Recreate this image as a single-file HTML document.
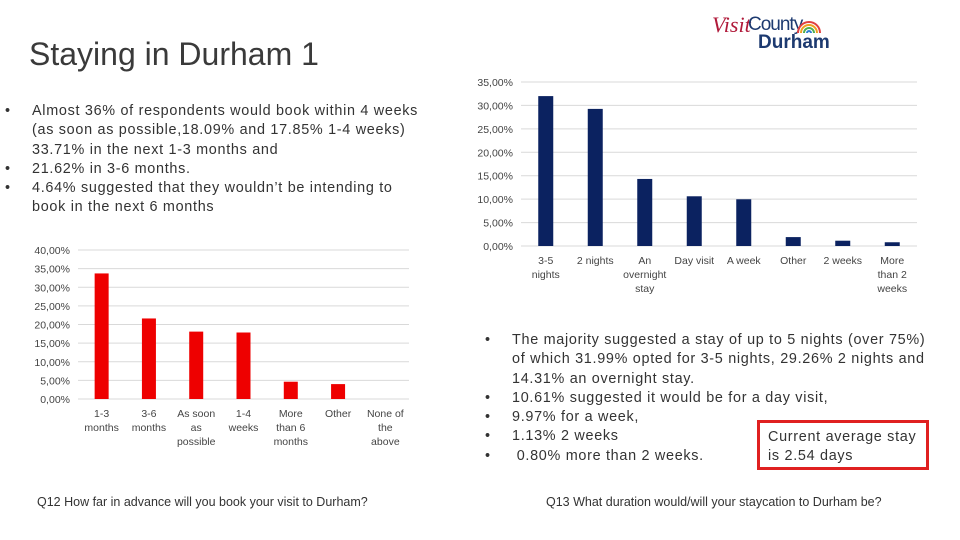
<!DOCTYPE html>
<html><head><meta charset="utf-8"><style>
body{margin:0;width:960px;height:540px;background:#fff;font-family:"Liberation Sans",sans-serif;position:relative;overflow:hidden;color:#333}
.abs{position:absolute}
ul{margin:0;padding:0;list-style:none;white-space:nowrap;letter-spacing:0.7px}
li{position:relative;padding-left:0}
li:before{content:"•";position:absolute;left:-27px}
</style></head><body>
<div class="abs" style="left:29px;top:36px;font-size:32px;color:#3a3a3a">Staying in Durham 1</div>
<div class="abs" style="left:712px;top:12px;width:110px;height:45px">
<span style="position:absolute;left:0;top:0;font-family:'Liberation Serif',serif;font-style:italic;color:#b01a3a;font-size:22px">Visit</span>
<span style="position:absolute;left:36px;top:2px;color:#1d3a70;font-size:19px;letter-spacing:-1px">County</span>
<span style="position:absolute;left:46px;top:20px;color:#1d3a70;font-size:19px;font-weight:bold">Durham</span>
<svg style="position:absolute;left:84px;top:8px" width="26" height="14"><path d="M2 13 A11 11 0 0 1 24 13" fill="none" stroke="#e04040" stroke-width="2"/><path d="M5 13 A8 8 0 0 1 21 13" fill="none" stroke="#f0a020" stroke-width="2"/><path d="M8 13 A5 5 0 0 1 18 13" fill="none" stroke="#50b050" stroke-width="2"/><path d="M11 13 A2 2 0 0 1 15 13" fill="none" stroke="#3080d0" stroke-width="2"/></svg>
</div>
<ul class="abs" style="left:32px;top:102px;font-size:14.4px;line-height:19.3px">
<li>Almost 36% of respondents would book within 4 weeks<br>(as soon as possible,18.09% and 17.85% 1-4 weeks)<br>33.71% in the next 1-3 months and</li>
<li>21.62% in 3-6 months.</li>
<li>4.64% suggested that they wouldn’t be intending to<br>book in the next 6 months</li>
</ul>
<ul class="abs" style="left:512px;top:331px;font-size:14.4px;line-height:19.3px">
<li>The majority suggested a stay of up to 5 nights (over 75%)<br>of which 31.99% opted for 3-5 nights, 29.26% 2 nights and<br>14.31% an overnight stay.</li>
<li>10.61% suggested it would be for a day visit,</li>
<li>9.97% for a week,</li>
<li>1.13% 2 weeks</li>
<li>&nbsp;0.80% more than 2 weeks.</li>
</ul>
<div class="abs" style="left:757px;top:420px;width:172px;height:50px;border:3px solid #e02020;box-sizing:border-box;padding:5px 0 0 8px;font-size:14.4px;line-height:19px;letter-spacing:0.7px;white-space:nowrap">Current average stay<br>is 2.54 days</div>
<div class="abs" style="left:37px;top:495px;font-size:12.5px">Q12 How far in advance will you book your visit to Durham?</div>
<div class="abs" style="left:546px;top:495px;font-size:12.5px">Q13 What duration would/will your staycation to Durham be?</div>
<svg id="c1" class="abs" style="left:0;top:0" width="960" height="540"></svg>
<svg id="c2" class="abs" style="left:0;top:0" width="960" height="540"></svg>
<script>
const cats1=[["1-3","months"],["3-6","months"],["As soon","as","possible"],["1-4","weeks"],["More","than 6","months"],["Other"],["None of","the","above"]];
const vals1=[33.71,21.62,18.09,17.85,4.64,4.0,0];
const ticks1=[0,5,10,15,20,25,30,35,40];
const cats2=[["3-5","nights"],["2 nights"],["An","overnight","stay"],["Day visit"],["A week"],["Other"],["2 weeks"],["More","than 2","weeks"]];
const vals2=[31.99,29.26,14.31,10.61,9.97,1.9,1.13,0.80];
const ticks2=[0,5,10,15,20,25,30,35];
const NS="http://www.w3.org/2000/svg";
function mk(svg,tag,attrs){const e=document.createElementNS(NS,tag);for(const k in attrs)e.setAttribute(k,attrs[k]);svg.appendChild(e);return e;}
function draw(id,cats,vals,ticks,o){
 const svg=document.getElementById(id);
 const y=v=>o.y0-(v-ticks[0])/(ticks[ticks.length-1]-ticks[0])*(o.y0-o.y1);
 const band=(o.x1-o.x0)/cats.length;
 const x=i=>o.x0+band*(i+0.5);
 ticks.forEach(t=>{
  const l=mk(svg,'line',{x1:o.x0,x2:o.x1,y1:y(t),y2:y(t),stroke:'#d9d9d9','stroke-width':1});
  
  
  const tx=mk(svg,'text',{x:o.x0-8,y:y(t)+4,'text-anchor':'end','font-size':10.5,fill:'#444'});
  tx.textContent=t.toFixed(2).replace('.',',')+'%';
  
  
 });
 vals.forEach((v,i)=>{
  const r=mk(svg,'rect',{x:x(i)-o.bw/2,y:y(v),width:o.bw,height:y(0)-y(v),fill:o.color});
  
  
 });
 cats.forEach((c,i)=>{
  const tx=mk(svg,'text',{x:x(i),y:y(0)+18,'text-anchor':'middle','font-size':10.5,fill:'#444'});
  
  
  c.forEach((s,j)=>{const ts=mk(tx,'tspan',{x:x(i),dy:j?14:0});ts.textContent=s;});
 });
}
draw('c1',cats1,vals1,ticks1,{x0:78,x1:409,y0:399,y1:250,bw:14,color:'#ee0000'});
draw('c2',cats2,vals2,ticks2,{x0:521,x1:917,y0:246,y1:82,bw:15,color:'#0b2260'});
</script>
</body></html>
